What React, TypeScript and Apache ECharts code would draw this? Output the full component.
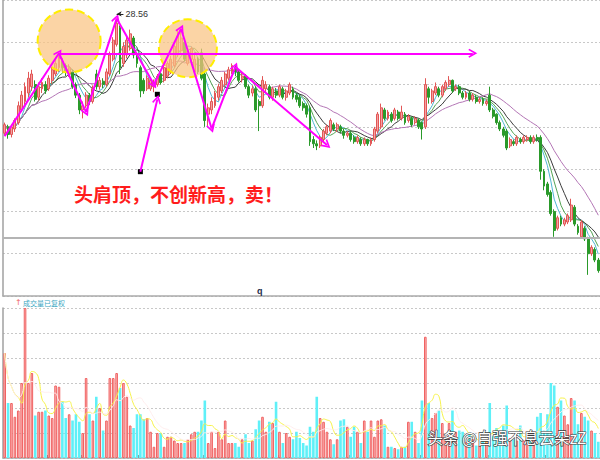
import React, { useEffect, useRef } from "react";
import * as echarts from "echarts";

// [open, close, low, high]
const candles: number[][] = [
  [25.85, 26.05, 25.78, 26.1], [26.0, 25.82, 25.72, 26.05], [25.82, 26.0, 25.75, 26.05], [25.95, 26.15, 25.88, 26.2],
  [26.1, 26.5, 26.05, 26.6], [26.4, 26.75, 26.35, 26.85], [26.6, 26.95, 26.5, 27.05], [26.8, 27.15, 26.7, 27.3],
  [26.95, 27.25, 26.85, 27.35], [27.0, 26.65, 26.6, 27.1], [26.7, 26.95, 26.62, 27.05], [26.9, 27.05, 26.8, 27.15],
  [27.0, 26.85, 26.78, 27.08], [26.9, 27.15, 26.85, 27.22], [27.1, 27.35, 27.02, 27.42], [27.25, 27.5, 27.2, 27.6],
  [27.4, 27.6, 27.3, 27.75], [27.55, 27.4, 27.28, 27.62], [27.45, 27.3, 27.2, 27.5], [27.25, 27.4, 27.18, 27.48],
  [27.3, 26.95, 26.9, 27.35], [27.0, 26.75, 26.68, 27.05], [26.75, 26.4, 26.3, 26.8], [26.4, 26.5, 26.2, 26.6],
  [26.5, 26.75, 26.45, 26.82], [26.75, 26.6, 26.52, 26.8], [26.6, 26.9, 26.55, 26.98], [27.25, 26.95, 26.88, 27.35],
  [26.95, 27.1, 26.88, 27.18], [27.08, 27.0, 26.92, 27.15], [27.0, 27.3, 26.95, 27.38], [27.25, 27.7, 27.2, 27.78],
  [27.6, 28.05, 27.55, 28.12], [27.95, 28.45, 27.9, 28.56], [28.35, 27.4, 27.25, 28.4], [27.5, 27.9, 27.42, 28.0],
  [27.7, 28.05, 27.62, 28.15], [27.85, 28.2, 27.8, 28.3], [28.1, 27.7, 27.62, 28.15], [27.65, 27.5, 27.4, 27.75],
  [27.4, 26.85, 26.7, 27.45], [27.1, 26.85, 26.78, 27.15], [26.9, 27.15, 26.85, 27.22], [26.9, 27.1, 26.85, 27.15],
  [26.95, 27.05, 26.82, 27.12], [27.0, 27.2, 26.95, 27.25], [27.25, 27.05, 27.0, 27.3], [27.1, 27.4, 27.05, 27.45],
  [27.2, 27.5, 27.15, 27.55], [27.3, 27.6, 27.25, 27.68], [27.45, 27.9, 27.4, 27.95], [27.7, 28.15, 27.65, 28.3],
  [27.8, 28.1, 27.75, 28.28], [28.0, 27.6, 27.55, 28.05], [27.5, 27.8, 27.45, 27.85], [27.6, 27.85, 27.5, 27.9],
  [27.3, 27.6, 27.25, 27.7], [27.6, 27.3, 27.25, 27.65], [27.75, 27.15, 27.1, 27.85], [27.25, 26.15, 26.0, 27.3],
  [26.3, 26.45, 26.0, 26.55], [26.4, 26.6, 26.3, 26.7], [26.5, 26.8, 26.45, 26.85], [26.7, 26.95, 26.62, 27.02],
  [26.85, 27.1, 26.8, 27.18], [27.0, 27.25, 26.95, 27.3], [27.15, 27.35, 27.1, 27.42], [27.3, 27.45, 27.25, 27.5],
  [27.4, 27.3, 27.2, 27.45], [27.3, 27.1, 27.05, 27.35], [27.15, 27.2, 27.05, 27.28], [27.2, 26.95, 26.9, 27.25],
  [26.95, 26.75, 26.68, 27.0], [26.8, 26.9, 26.72, 26.98], [26.9, 26.4, 26.35, 26.95], [26.6, 26.5, 25.9, 26.65],
  [26.5, 27.1, 26.45, 27.2], [26.9, 27.0, 26.82, 27.08], [26.95, 26.7, 26.65, 27.0], [26.7, 26.9, 26.62, 26.95],
  [26.85, 26.75, 26.68, 26.92], [26.75, 26.95, 26.7, 27.0], [26.9, 26.7, 26.65, 26.95], [26.7, 26.85, 26.62, 26.9],
  [26.8, 27.0, 26.75, 27.05], [26.9, 26.7, 26.65, 26.95], [26.75, 26.65, 26.58, 26.8], [26.7, 26.5, 26.45, 26.75],
  [26.55, 26.45, 26.38, 26.6], [26.5, 26.3, 26.22, 26.55], [26.45, 25.65, 25.55, 26.5], [25.7, 25.6, 25.5, 25.78],
  [25.6, 25.55, 25.45, 25.68], [25.55, 25.75, 25.5, 25.8], [25.7, 25.9, 25.65, 25.95], [25.85, 26.0, 25.8, 26.05],
  [25.9, 26.15, 25.85, 26.2], [26.05, 25.95, 25.9, 26.1], [25.95, 26.05, 25.88, 26.1], [26.0, 25.9, 25.85, 26.05],
  [25.9, 25.8, 25.72, 25.95], [25.8, 25.85, 25.75, 25.9], [25.85, 25.7, 25.65, 25.9], [25.75, 25.65, 25.6, 25.8],
  [25.65, 25.75, 25.6, 25.8], [25.7, 25.6, 25.55, 25.75], [25.6, 25.7, 25.55, 25.75], [25.7, 25.6, 25.55, 25.72],
  [25.6, 25.7, 25.55, 25.75], [25.7, 25.95, 25.65, 26.0], [25.9, 26.3, 25.85, 26.35], [26.0, 26.45, 25.95, 26.55],
  [26.4, 26.2, 26.15, 26.45], [26.2, 26.35, 26.15, 26.4], [26.3, 26.15, 26.1, 26.35], [26.2, 26.4, 26.15, 26.45],
  [26.35, 26.2, 26.15, 26.4], [26.2, 26.35, 26.15, 26.5], [26.3, 26.1, 26.05, 26.35], [26.15, 26.25, 26.1, 26.3],
  [26.2, 26.05, 26.0, 26.25], [26.1, 26.2, 26.05, 26.25], [26.15, 26.0, 25.95, 26.2], [26.1, 25.95, 25.7, 26.12],
  [26.0, 27.0, 25.95, 27.15], [26.9, 26.7, 26.55, 26.95], [26.6, 26.85, 26.55, 26.9], [26.8, 26.95, 26.75, 27.05],
  [26.9, 26.75, 26.7, 26.95], [26.75, 26.95, 26.7, 27.0], [26.9, 27.05, 26.85, 27.1], [27.0, 27.1, 26.95, 27.2],
  [27.1, 26.85, 26.8, 27.12], [26.9, 26.95, 26.85, 27.0], [26.95, 26.8, 26.75, 27.0], [26.8, 26.7, 26.65, 26.85],
  [26.7, 26.8, 26.65, 26.85], [26.8, 26.65, 26.6, 26.85], [26.65, 26.75, 26.6, 26.8], [26.7, 26.6, 26.55, 26.75],
  [26.6, 26.65, 26.55, 26.7], [26.65, 26.55, 26.5, 26.7], [26.55, 26.6, 26.5, 26.65], [26.75, 26.4, 26.35, 26.95],
  [26.4, 26.25, 26.2, 26.45], [26.3, 26.1, 26.05, 26.32], [26.1, 25.95, 25.9, 26.15], [25.95, 25.8, 25.75, 26.0],
  [25.9, 25.5, 25.45, 25.95], [25.55, 25.7, 25.5, 25.75], [25.65, 25.6, 25.55, 25.7], [25.6, 25.75, 25.55, 25.8],
  [25.7, 25.65, 25.6, 25.75], [25.65, 25.75, 25.6, 25.8], [25.7, 25.75, 25.65, 25.8], [25.75, 25.65, 25.6, 25.8],
  [25.65, 25.75, 25.6, 25.8], [25.75, 25.7, 25.65, 25.82], [25.75, 24.95, 24.75, 25.8], [24.95, 24.6, 24.5, 25.0],
  [24.65, 24.4, 24.35, 24.7], [24.45, 23.95, 23.9, 24.5], [24.0, 23.55, 23.4, 24.05], [23.6, 23.85, 23.55, 23.9],
  [23.85, 23.7, 23.65, 23.9], [23.7, 23.8, 23.65, 23.85], [23.75, 23.9, 23.7, 23.95], [23.8, 24.15, 23.75, 24.3],
  [24.1, 23.7, 23.65, 24.15], [23.65, 23.5, 23.45, 23.7], [23.4, 23.75, 23.35, 23.8], [23.6, 23.35, 23.3, 23.65],
  [23.35, 23.0, 22.5, 23.4], [23.0, 23.15, 22.95, 23.2], [23.1, 22.85, 22.8, 23.15], [22.85, 22.6, 22.55, 22.9],
];

const volumes: number[] = [
  4.2, 2.2, 2.2, 1.65, 1.9, 3.0, 6.0, 3.0, 3.4, 1.7, 1.85, 1.85, 1.9, 1.7, 1.6, 2.9,
  2.85, 2.25, 1.6, 1.75, 1.5, 1.75, 1.45, 1.0, 3.2, 1.75, 1.5, 2.45, 2.0, 1.1, 1.5, 3.2,
  3.2, 3.4, 2.8, 3.0, 2.45, 1.3, 1.2, 1.75, 1.75, 1.55, 1.6, 1.05, 0.45, 1.0, 1.0, 0.45,
  0.85, 0.85, 0.7, 0.6, 0.6, 0.6, 0.75, 0.95, 1.05, 1.05, 1.5, 2.3, 0.6, 1.05, 0.4, 1.05,
  0.75, 1.5, 0.6, 0.6, 0.6, 0.45, 0.75, 0.95, 0.6, 0.7, 1.15, 1.5, 1.65, 1.05, 1.45, 1.4,
  2.25, 1.05, 0.6, 1.0, 0.85, 0.75, 1.05, 0.8, 0.6, 0.5, 1.25, 1.05, 2.45, 1.6, 1.45, 1.05,
  0.75, 0.55, 0.75, 1.5, 1.55, 1.25, 0.85, 1.25, 1.05, 0.6, 1.5, 1.05, 1.5, 0.85, 1.5, 1.55,
  1.3, 0.45, 0.45, 0.4, 0.35, 0.45, 0.45, 1.45, 1.45, 1.05, 0.6, 2.3, 4.85, 2.2, 1.6, 1.8,
  1.9, 1.4, 0.7, 1.4, 1.9, 1.05, 1.1, 1.05, 0.65, 1.0, 0.75, 0.5, 0.5, 0.7, 0.7, 2.2,
  0.9, 1.2, 1.05, 1.3, 2.1, 0.8, 0.75, 0.7, 1.3, 0.7, 0.8, 0.8, 1.05, 1.65, 1.8, 1.1,
  1.75, 3.0, 2.9, 2.05, 2.3, 1.7, 1.35, 2.4, 2.3, 1.35, 1.8, 1.65, 1.5, 1.1, 1.0, 0.65,
];

const monthTicks: number[] = [13, 23, 40, 59, 81, 102, 123, 143, 160];
const headLabel = "28.56";
const noteText = "头肩顶，不创新高，卖！";
const volumeLegend = "成交量已复权";
const watermark = "头条 @自强不息云朵zZ";
const refPrice = 23.37;
// annotation anchors, [category index, price]
const zigzag: number[][] = [
  [0, 25.78], [16, 27.74], [24, 26.35], [33, 28.56], [44, 27.0],
  [52, 28.32], [61, 25.96], [68, 27.42], [95, 25.57],
];
const neckline: number[][] = [[16, 27.74], [138, 27.74]];
const pointer: number[][] = [[40, 24.94], [45, 26.65]];
const pointerMarks: number[][] = [[40, 24.94], [45, 26.77]];
const circles: number[][] = [[19, 28.03, 63], [54, 27.86, 58]];
const labelAnchor: number[][] = [[35, 28.67], [33, 28.67]];

const ma = (vals: number[], n: number) =>
  vals.map((_, i) => {
    const s = Math.max(0, i - n + 1);
    const part = vals.slice(s, i + 1);
    return +(part.reduce((a, b) => a + b, 0) / part.length).toFixed(3);
  });

const chevron = "path://M5,0L10,8.5L8.6,9.5L5,3.6L1.4,9.5L0,8.5Z";

export default function App() {
  const ref = useRef<HTMLDivElement>(null);
  useEffect(() => {
    if (!ref.current) return;
    const chart = echarts.init(ref.current, null, { renderer: "svg" });
    const cats = candles.map((_, i) => String(i));
    const closes = candles.map((c) => c[1]);
    const up = candles.map((c) => c[1] >= c[0]);

    const maLine = (n: number, color: string, extra: any = {}) => ({
      type: "line",
      data: ma(closes, n),
      xAxisIndex: 0,
      yAxisIndex: 0,
      symbol: "none",
      silent: true,
      lineStyle: { color, width: 1 },
      z: 2,
      ...extra,
    });

    const zigSegs = zigzag.slice(1).map((p, k) => [
      { coord: zigzag[k] },
      { coord: p },
    ]);

    const option: any = {
      animation: false,
      backgroundColor: "#ffffff",
      grid: [
        { left: 3, right: 0, top: -6.4, height: 302.4 },
        { left: 3, right: 0, top: 308, height: 150 },
      ],
      xAxis: [
        {
          type: "category",
          gridIndex: 0,
          data: cats,
          axisLine: { show: true, lineStyle: { color: "#aaaaaa", width: 1.5 } },
          axisTick: { show: false },
          axisLabel: { show: false },
          splitLine: { show: false },
        },
        {
          type: "category",
          gridIndex: 1,
          data: cats,
          axisLine: { show: true, lineStyle: { color: "#aaaaaa", width: 1.5 } },
          axisTick: {
            show: true,
            inside: true,
            length: 3,
            interval: (idx: number) => monthTicks.includes(idx),
            lineStyle: { color: "#888888" },
          },
          axisLabel: { show: false },
          splitLine: { show: false },
        },
      ],
      yAxis: [
        {
          type: "value",
          gridIndex: 0,
          min: 22,
          max: 29,
          interval: 1,
          axisLine: { show: true, lineStyle: { color: "#a0a0a0", width: 1.5 } },
          axisTick: { show: false },
          axisLabel: { show: false },
          splitLine: { show: true, lineStyle: { color: "#c8c8c8", type: [2, 2], width: 1 } },
        },
        {
          type: "value",
          gridIndex: 1,
          min: 0,
          max: 6,
          interval: 1,
          axisLine: { show: true, lineStyle: { color: "#a0a0a0", width: 1.5 } },
          axisTick: { show: false },
          axisLabel: { show: false },
          splitLine: { show: true, lineStyle: { color: "#c8c8c8", type: [2, 2], width: 1 } },
        },
      ],
      series: [
        {
          type: "candlestick",
          xAxisIndex: 0,
          yAxisIndex: 0,
          data: candles,
          barWidth: 2.4,
          silent: true,
          z: 2,
          itemStyle: {
            color: "#f3a2a2",
            color0: "#2a9a2a",
            borderColor: "#e25656",
            borderColor0: "#2a9a2a",
            borderWidth: 1,
          },
          markPoint: {
            z: 3,
            silent: true,
            label: { show: false },
            data: [
              ...circles.map((c) => ({
                coord: [c[0], c[1]],
                symbol: "circle",
                symbolSize: c[2],
                itemStyle: {
                  color: "rgba(250,195,130,0.72)",
                  borderColor: "#ffee00",
                  borderWidth: 2,
                  borderType: "dashed",
                },
              })),
              ...pointerMarks.map((p) => ({
                coord: p,
                symbol: "rect",
                symbolSize: 5,
                itemStyle: { color: "#000000" },
              })),
              {
                coord: labelAnchor[0],
                symbol: "circle",
                symbolSize: 0,
                label: {
                  show: true,
                  position: "right",
                  distance: 2,
                  formatter: headLabel,
                  color: "#333333",
                  fontSize: 9,
                  fontFamily: "Arial",
                },
              },
            ],
          },
          markLine: {
            z: 5,
            silent: true,
            symbol: ["none", chevron],
            symbolSize: [9, 9],
            label: { show: false },
            lineStyle: { color: "#ff00ff", width: 2, type: "solid" },
            emphasis: { disabled: true },
            data: [
              ...zigSegs,
              [{ coord: neckline[0] }, { coord: neckline[1] }],
              [{ coord: pointer[0] }, { coord: pointer[1] }],
              [
                { coord: labelAnchor[0], lineStyle: { color: "#222222", width: 1, type: "solid" } },
                { coord: labelAnchor[1], symbol: "arrow", symbolSize: [4, 5] },
              ],
            ],
          },
        },
        maLine(5, "#4fb6d2"),
        maLine(7, "#55a455"),
        maLine(10, "#3c3c3c"),
        maLine(20, "#b476b6", {
          markLine: {
            silent: true,
            symbol: ["none", "none"],
            label: { show: false },
            lineStyle: { color: "#b4b4b4", width: 2, type: "solid" },
            data: [{ yAxis: refPrice }],
          },
        }),
        {
          type: "bar",
          xAxisIndex: 1,
          yAxisIndex: 1,
          silent: true,
          barWidth: 2.6,
          data: volumes.map((v, i) => ({
            value: v,
            itemStyle: up[i]
              ? { color: "#fbb8b8", borderColor: "#f06262", borderWidth: 1 }
              : { color: "#5ff0f8", borderColor: "#5ff0f8", borderWidth: 0 },
          })),
        },
        {
          type: "line",
          xAxisIndex: 1,
          yAxisIndex: 1,
          data: ma(volumes, 5),
          symbol: "none",
          smooth: true,
          silent: true,
          lineStyle: { color: "#f6f24a", width: 1 },
          z: 3,
        },
        {
          type: "line",
          xAxisIndex: 1,
          yAxisIndex: 1,
          data: ma(volumes, 10),
          symbol: "none",
          smooth: true,
          silent: true,
          lineStyle: { color: "rgba(255,236,236,0.95)", width: 1 },
          z: 3,
        },
      ],
      graphic: [
        {
          type: "text",
          left: 74,
          top: 184,
          z: 100,
          style: {
            text: noteText,
            fill: "#ff1c1c",
            fontSize: 19,
            fontWeight: "bold",
            fontFamily: "Noto Sans CJK SC",
          },
        },
        {
          type: "text",
          left: 257,
          top: 286,
          z: 100,
          style: { text: "q", fill: "#1c2b4a", fontSize: 9, fontWeight: "bold", fontFamily: "Arial" },
        },
        {
          type: "text",
          left: 15,
          top: 298,
          z: 100,
          style: { text: "↑", fill: "#f06a6a", fontSize: 8, fontFamily: "DejaVu Sans" },
        },
        {
          type: "text",
          left: 23,
          top: 299,
          z: 100,
          style: { text: volumeLegend, fill: "#3aa6bf", fontSize: 7, fontFamily: "Noto Sans CJK SC" },
        },
        {
          type: "text",
          left: 427,
          top: 429,
          z: 100,
          style: {
            text: watermark,
            fill: "#ffffff",
            stroke: "#3a3a3a",
            lineWidth: 1.2,
            fontSize: 15.5,
            fontFamily: "Noto Sans CJK SC",
          },
        },
      ],
    };
    chart.setOption(option);
    return () => chart.dispose();
  }, []);
  return (
    <div
      ref={ref}
      style={{ position: "fixed", left: 0, top: 0, width: 600, height: 460, background: "#fff" }}
    />
  );
}
